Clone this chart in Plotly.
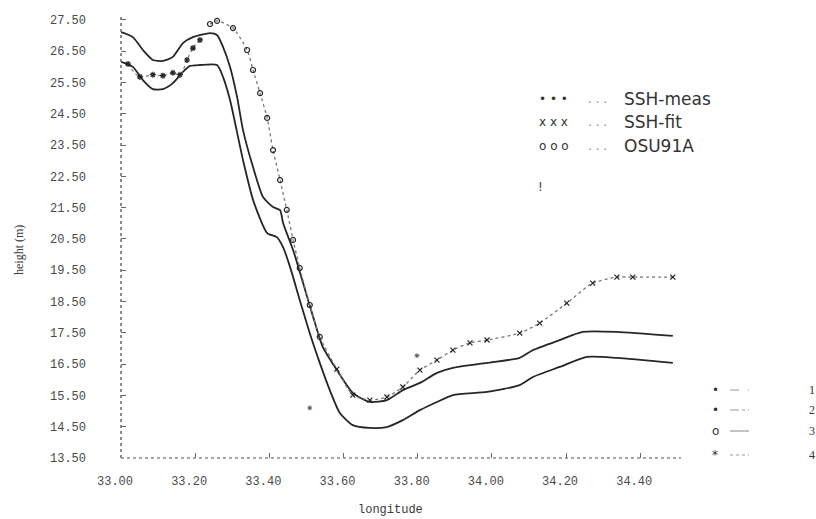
import plotly.graph_objects as go

# ---- profile data: longitude (deg) vs height (m) ----
# upper solid profile
lon_a = [33.000, 33.032, 33.059, 33.086, 33.113, 33.140, 33.167, 33.194, 33.240, 33.259,
         33.275, 33.294, 33.313, 33.329, 33.356, 33.383, 33.410, 33.429, 33.437, 33.464,
         33.491, 33.518, 33.544, 33.582, 33.625, 33.671, 33.717, 33.760, 33.806, 33.852,
         33.895, 33.987, 34.075, 34.111, 34.183, 34.245, 34.337, 34.488]
h_a = [27.11, 26.95, 26.54, 26.22, 26.19, 26.32, 26.76, 26.95, 27.08, 27.02,
       26.64, 26.00, 25.04, 23.98, 22.80, 21.84, 21.52, 21.42, 21.01, 20.15,
       19.09, 18.01, 17.05, 16.31, 15.58, 15.29, 15.35, 15.67, 15.90, 16.22,
       16.38, 16.54, 16.70, 16.95, 17.27, 17.53, 17.53, 17.40]

# lower solid profile
lon_b = [33.000, 33.032, 33.059, 33.086, 33.113, 33.140, 33.167, 33.186, 33.213, 33.259,
         33.275, 33.294, 33.329, 33.356, 33.394, 33.420, 33.437, 33.456, 33.482, 33.509,
         33.536, 33.563, 33.590, 33.625, 33.671, 33.717, 33.760, 33.806, 33.852, 33.895,
         33.987, 34.075, 34.111, 34.183, 34.256, 34.337, 34.488]
h_b = [26.16, 26.00, 25.58, 25.29, 25.29, 25.48, 25.84, 26.03, 26.06, 26.06,
       25.68, 24.94, 23.02, 21.75, 20.69, 20.56, 20.24, 19.60, 18.55, 17.49,
       16.54, 15.67, 14.94, 14.55, 14.46, 14.49, 14.71, 15.03, 15.29, 15.51,
       15.61, 15.83, 16.09, 16.41, 16.73, 16.70, 16.54]

# dotted profile with markers
lon_c = [33.240, 33.259, 33.302, 33.340, 33.356, 33.375, 33.394, 33.410, 33.429, 33.447,
         33.464, 33.482, 33.509, 33.536, 33.582, 33.625, 33.671, 33.717, 33.760, 33.806,
         33.852, 33.895, 33.941, 33.987, 34.075, 34.129, 34.202, 34.272, 34.337, 34.380,
         34.488]
h_c = [27.37, 27.47, 27.24, 26.54, 25.90, 25.16, 24.37, 23.34, 22.38, 21.43,
       20.47, 19.57, 18.39, 17.37, 16.34, 15.51, 15.35, 15.45, 15.77, 16.31,
       16.63, 16.95, 17.18, 17.27, 17.49, 17.81, 18.45, 19.09, 19.28, 19.28,
       19.28]

# short measured segment near the western end
lon_d = [33.019, 33.051, 33.086, 33.113, 33.140, 33.159, 33.178, 33.194, 33.213]
h_d = [26.09, 25.68, 25.75, 25.72, 25.81, 25.75, 26.22, 26.60, 26.86]

# isolated measurements
lon_e = [33.509, 33.798]
h_e = [15.10, 16.77]

x_ticks = [33.00, 33.20, 33.40, 33.60, 33.80, 34.00, 34.20, 34.40]
y_ticks = [13.5 + i for i in range(15)]

legend_labels = ["SSH-meas", "SSH-fit", "OSU91A"]
legend_marks = ["\u2022 \u2022 \u2022", "x x x", "o o o"]
key_numbers = ["1", "2", "3", "4"]

# ---- page geometry ----
W, H = 816, 519
ML, MR, MT, MB = 121, 135, 15, 61
PW, PH = W - ML - MR, H - MT - MB


def px(x):
    return (x - ML) / PW


def py(y):
    return (H - MB - y) / PH


INK = "#262626"
GREY = "#555555"

fig = go.Figure()

fig.add_trace(go.Scatter(x=lon_a, y=h_a, mode="lines", line=dict(color=INK, width=1.8, shape="spline", smoothing=0.6),
                         showlegend=False, hoverinfo="skip"))
fig.add_trace(go.Scatter(x=lon_b, y=h_b, mode="lines", line=dict(color=INK, width=1.8, shape="spline", smoothing=0.6),
                         showlegend=False, hoverinfo="skip"))

sym_c = ["circle-open"] * 14 + ["x-thin-open"] * (len(lon_c) - 14)
fig.add_trace(go.Scatter(x=lon_c, y=h_c, mode="lines+markers",
                         line=dict(color="#777777", width=1.3, dash="dot", shape="spline", smoothing=0.6),
                         marker=dict(symbol=sym_c, size=5, color=INK, line=dict(width=1.2, color=INK)),
                         showlegend=False, hoverinfo="skip"))
fig.add_trace(go.Scatter(x=lon_d, y=h_d, mode="lines+markers",
                         line=dict(color="#777777", width=1.2, dash="dot", shape="spline"),
                         marker=dict(symbol="asterisk-open", size=5, color=INK, line=dict(width=1.2, color=INK)),
                         showlegend=False, hoverinfo="skip"))
fig.add_trace(go.Scatter(x=lon_e, y=h_e, mode="markers",
                         marker=dict(symbol="asterisk-open", size=4, color=GREY, line=dict(width=1, color=GREY)),
                         showlegend=False, hoverinfo="skip"))

shapes = [
    # dotted axes
    dict(type="line", xref="paper", yref="paper", x0=0, x1=0, y0=0, y1=py(15),
         line=dict(color="#707070", width=1.6, dash="dot")),
    dict(type="line", xref="paper", yref="paper", x0=0, x1=px(681), y0=0, y1=0,
         line=dict(color="#8a8a8a", width=1.4, dash="dot")),
]

annotations = [
    dict(text="height (m)", x=px(19), y=py(250), xref="paper", yref="paper", textangle=-90,
         xanchor="center", yanchor="middle",
         showarrow=False, font=dict(family="Liberation Serif", size=12, color="#3a3a3a")),
    dict(text="longitude", x=px(390), y=py(510), xref="paper", yref="paper",
         xanchor="center", yanchor="middle",
         showarrow=False, font=dict(family="Liberation Mono", size=12, color="#3a3a3a")),
    dict(text="!", x=px(536), y=py(187), xref="paper", yref="paper", xanchor="left", yanchor="middle",
         showarrow=False, font=dict(family="DejaVu Sans", size=12, color="#444444")),
]

# text key in the upper right
for row_y, mark, label in zip([99, 122, 146], legend_marks, legend_labels):
    annotations.append(dict(text=mark, x=px(537), y=py(row_y), xref="paper", yref="paper",
                            xanchor="left", yanchor="middle",
                            showarrow=False, font=dict(family="DejaVu Sans", size=12, color="#333333")))
    annotations.append(dict(text=". . .", x=px(586), y=py(row_y), xref="paper", yref="paper",
                            xanchor="left", yanchor="middle",
                            showarrow=False, font=dict(family="DejaVu Sans", size=12, color="#8a8a8a")))
    annotations.append(dict(text=label, x=px(622), y=py(row_y), xref="paper", yref="paper",
                            xanchor="left", yanchor="middle",
                            showarrow=False, font=dict(family="DejaVu Sans", size=17, color="#333333")))

# line-style key in the lower right
key_rows = [390, 410, 431, 455]
key_syms = ["\u2022", "\u2022", "o", "*"]
key_dash = ["dash", "dashdot", "solid", "dot"]
for ry, sym, dash, num in zip(key_rows, key_syms, key_dash, key_numbers):
    annotations.append(dict(text=sym, x=px(715), y=py(ry), xref="paper", yref="paper",
                            xanchor="center", yanchor="middle",
                            showarrow=False, font=dict(family="DejaVu Sans", size=12, color="#333333")))
    shapes.append(dict(type="line", xref="paper", yref="paper", x0=px(730), x1=px(749), y0=py(ry), y1=py(ry),
                       line=dict(color="#9a9a9a", width=1.2, dash=dash)))
    annotations.append(dict(text=num, x=px(812), y=py(ry), xref="paper", yref="paper",
                            xanchor="center", yanchor="middle",
                            showarrow=False, font=dict(family="Liberation Serif", size=12, color="#333333")))

fig.update_layout(
    width=W, height=H,
    margin=dict(l=ML, r=MR, t=MT, b=MB, pad=0),
    paper_bgcolor="white", plot_bgcolor="white",
    shapes=shapes, annotations=annotations,
    xaxis=dict(range=[33.0, 34.51], tickvals=x_ticks, ticktext=[f"{v:.2f}" for v in x_ticks],
               showgrid=False, zeroline=False, showline=False,
               ticks="inside", ticklen=5, tickcolor="#666666", tickwidth=1,
               ticklabelstandoff=14, ticklabelshift=-6,
               tickfont=dict(family="Liberation Mono", size=12, color="#4a4a4a")),
    yaxis=dict(range=[13.5, 13.5 + PH / 31.29], tickvals=y_ticks, ticktext=[f"{v:.2f}" for v in y_ticks],
               showgrid=False, zeroline=False, showline=False,
               ticks="inside", ticklen=5, tickcolor="#666666", tickwidth=1,
               ticklabelstandoff=34,
               tickfont=dict(family="Liberation Mono", size=12, color="#4a4a4a")),
)

fig.write_html("out.html")
